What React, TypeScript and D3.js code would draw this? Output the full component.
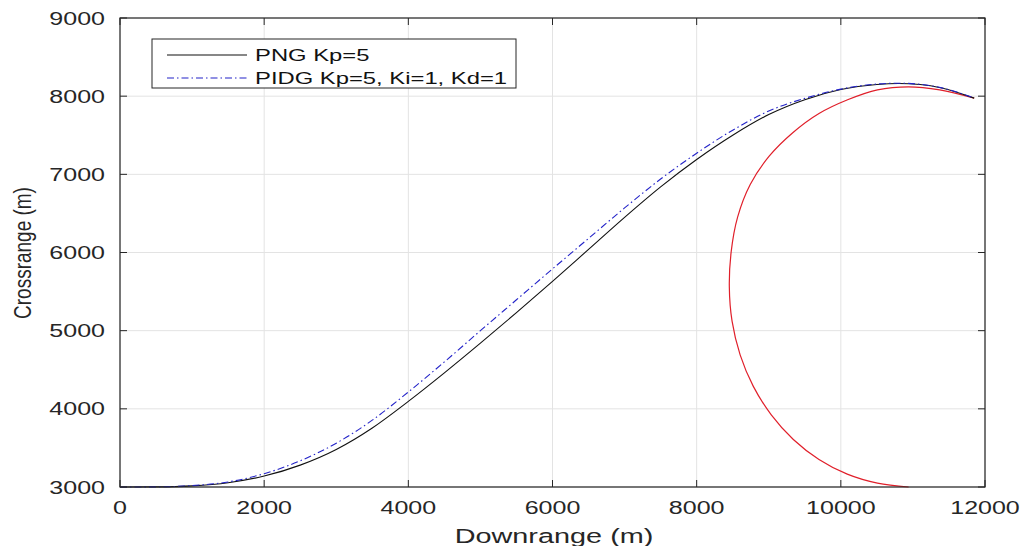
import React from "react";
import * as d3 from "d3";

// ---- data ----
const xTicks = [0, 2000, 4000, 6000, 8000, 10000, 12000];
const yTicks = [3000, 4000, 5000, 6000, 7000, 8000, 9000];

const pngX = [0, 500, 1000, 1500, 2000, 2500, 3000, 3500, 4000, 4500, 5000, 5500, 6000, 6500, 7000, 7500, 8000, 8500, 9000, 9500, 10000, 10500, 10800, 11100, 11400, 11850];
const pngY = [3000, 3002, 3015, 3055, 3140, 3280, 3480, 3755, 4095, 4460, 4840, 5230, 5630, 6040, 6450, 6840, 7190, 7500, 7765, 7955, 8085, 8150, 8163, 8150, 8105, 7975];

const pidgX = [0, 500, 1000, 1500, 2000, 2500, 3000, 3500, 4000, 4500, 5000, 5500, 6000, 6500, 7000, 7500, 8000, 8500, 9000, 9500, 10000, 10500, 10800, 11100, 11400, 11850];
const pidgY = [3000, 3002, 3018, 3065, 3170, 3335, 3560, 3855, 4215, 4600, 5000, 5395, 5790, 6180, 6570, 6940, 7270, 7565, 7810, 7972, 8090, 8155, 8166, 8152, 8106, 7975];

const targetX = [11850, 11372, 10940, 10508, 10094, 9697, 9333, 9006, 8743, 8568, 8479, 8453, 8491, 8603, 8786, 9035, 9341, 9697, 10089, 10508, 10940];
const targetY = [7975, 8081, 8120, 8081, 7954, 7778, 7532, 7232, 6869, 6452, 6011, 5565, 5121, 4691, 4287, 3923, 3608, 3352, 3164, 3049, 3000];

const legendLabels = ["PNG Kp=5", "PIDG Kp=5, Ki=1, Kd=1"];
const xLabel = "Downrange (m)";
const yLabel = "Crossrange (m)";

const W = 1025;
const H = 546;
const L = 120, R = 985, T = 18, B = 487;

export default function App() {
  const x = d3.scaleLinear().domain([0, 12000]).range([L, R]);
  const y = d3.scaleLinear().domain([3000, 9000]).range([B, T]);
  const lineMono = d3
    .line<[number, number]>()
    .x((d) => x(d[0]))
    .y((d) => y(d[1]))
    .curve(d3.curveMonotoneX);
  const lineRound = d3
    .line<[number, number]>()
    .x((d) => x(d[0]))
    .y((d) => y(d[1]))
    .curve(d3.curveCatmullRom.alpha(0.5));

  const zip = (a: number[], b: number[]) => a.map((v, i) => [v, b[i]] as [number, number]);

  const axisColor = "#262626";
  const gridColor = "#e3e3e3";
  const font = "'Liberation Sans', Arial, Helvetica, sans-serif";
  const tickLen = 7;
  const blue = "#2323c8";

  return (
    <svg width={W} height={H} style={{ position: "absolute", left: 0, top: 0, background: "#fff" }} fontFamily={font}>
      <rect x={0} y={0} width={W} height={H} fill="#fff" />
      {/* grid */}
      {xTicks.map((t) => (
        <line key={"gx" + t} x1={x(t)} x2={x(t)} y1={T} y2={B} stroke={gridColor} strokeWidth={1} />
      ))}
      {yTicks.map((t) => (
        <line key={"gy" + t} x1={L} x2={R} y1={y(t)} y2={y(t)} stroke={gridColor} strokeWidth={1} />
      ))}

      {/* data */}
      <path d={lineRound(zip(targetX, targetY)) || ""} fill="none" stroke="#e01f2a" strokeWidth={1.2} />
      <path d={lineMono(zip(pngX, pngY)) || ""} fill="none" stroke="#111" strokeWidth={1.1} />
      <path d={lineMono(zip(pidgX, pidgY)) || ""} fill="none" stroke={blue} strokeWidth={1.1} strokeDasharray="7,3,1.5,3" />

      {/* axes box */}
      <rect x={L} y={T} width={R - L} height={B - T} fill="none" stroke={axisColor} strokeWidth={1.2} />
      {xTicks.map((t) => (
        <g key={"tx" + t}>
          <line x1={x(t)} x2={x(t)} y1={B} y2={B - tickLen} stroke={axisColor} />
          <line x1={x(t)} x2={x(t)} y1={T} y2={T + tickLen} stroke={axisColor} />
          <text
            transform={`translate(${x(t)},${B + 27}) scale(1.39,1)`}
            textAnchor="middle"
            fontSize={18}
            fill={axisColor}
          >
            {t}
          </text>
        </g>
      ))}
      {yTicks.map((t) => (
        <g key={"ty" + t}>
          <line x1={L} x2={L + tickLen} y1={y(t)} y2={y(t)} stroke={axisColor} />
          <line x1={R} x2={R - tickLen} y1={y(t)} y2={y(t)} stroke={axisColor} />
          <text
            transform={`translate(${L - 15},${y(t) + 6.5}) scale(1.39,1)`}
            textAnchor="end"
            fontSize={18}
            fill={axisColor}
          >
            {t}
          </text>
        </g>
      ))}

      {/* axis labels */}
      <text transform={`translate(554,543) scale(1.48,1)`} textAnchor="middle" fontSize={19.5} fill={axisColor}>
        {xLabel}
      </text>
      <text transform={`translate(31,253) rotate(-90) scale(1,1.3)`} textAnchor="middle" fontSize={19} fill={axisColor}>
        {yLabel}
      </text>

      {/* legend */}
      <rect x={152} y={39} width={364} height={49} fill="#fff" stroke={axisColor} strokeWidth={1} />
      <line x1={167} x2={247} y1={55} y2={55} stroke="#111" strokeWidth={1.1} />
      <line x1={167} x2={247} y1={78} y2={78} stroke={blue} strokeWidth={1.1} strokeDasharray="7,3,1.5,3" />
      <text transform={`translate(255,61) scale(1.47,1)`} fontSize={16.2} fill="#111">
        {legendLabels[0]}
      </text>
      <text transform={`translate(255,84) scale(1.47,1)`} fontSize={16.2} fill="#111">
        {legendLabels[1]}
      </text>
    </svg>
  );
}
